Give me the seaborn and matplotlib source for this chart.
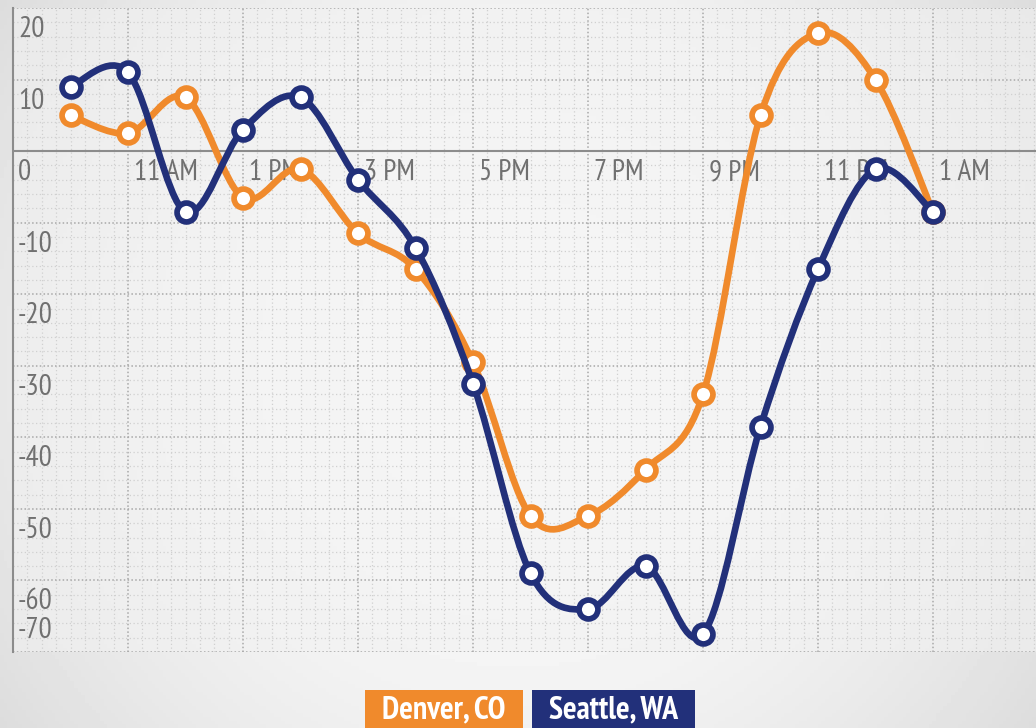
import numpy as np
import pandas as pd
import seaborn as sns
import matplotlib.pyplot as plt
from matplotlib.path import Path
from matplotlib.patches import PathPatch, Rectangle
from matplotlib.transforms import offset_copy

# hours of the day (10 AM .. 1 AM next day)
hours = list(range(10, 26))
denver = [5, 2.5, 7.5, -6.5, -2.5, -11.5, -16.5, -29.5, -51, -51, -44.5, -34, 5, 16.5, 10, -8.5]
seattle = [9, 11, -8.5, 3, 7.5, -4, -13.5, -32.5, -59, -64, -58, -67.5, -38.5, -16.5, -2.5, -8.5]
series_names = ["Denver, CO", "Seattle, WA"]

x_tick_pos = [11, 13, 15, 17, 19, 21, 23, 25]
x_tick_labels = ["11 AM", "1 PM", "3 PM", "5 PM", "7 PM", "9 PM", "11 PM", "1 AM"]
y_ticks = [20, 10, 0, -10, -20, -30, -40, -50, -60, -70]

ORANGE = "#f08a2c"
NAVY = "#22307a"
TICK_FONT = ["PT Sans Narrow", "Archivo Narrow", "DejaVu Sans"]

df = pd.DataFrame({
    "hour": hours * 2,
    "value": denver + seattle,
    "city": [series_names[0]] * len(hours) + [series_names[1]] * len(hours),
})

sns.set_theme(style="white")

fig = plt.figure(figsize=(10.36, 7.28), dpi=100)
fig.patch.set_facecolor("#f2f2f2")

# soft vignette behind everything
bg = fig.add_axes([0, 0, 1, 1], zorder=-5)
gy, gx = np.mgrid[-1:1:200j, -1:1:280j]
shade = 0.985 - 0.08 * (gx ** 2) - 0.04 * (gy ** 2)
bg.imshow(shade, cmap="gray", vmin=0, vmax=1, aspect="auto", extent=[0, 1, 0, 1])
bg.axis("off")

ax = fig.add_axes([13 / 1036, 76 / 728, 1023 / 1036, 644 / 728])
ax.set_facecolor((0.95, 0.95, 0.95, 0.6))
ax.set_xlim(9, 9 + 1023 / 57.5)
ax.set_ylim(-70, 20)

# grids
ax.set_xticks(np.arange(9, 27, 2))
ax.set_yticks(np.arange(-70, 21, 10))
ax.set_xticks(np.arange(9, 27, 0.25), minor=True)
ax.set_yticks(np.arange(-70, 21, 2), minor=True)
ax.grid(which="major", color="#a8a8a8", linestyle=(0, (1, 1.5)), linewidth=1.1)
ax.grid(which="minor", color="#d0d0d0", linestyle=(0, (1, 2)), linewidth=0.9)
ax.tick_params(which="both", length=0, labelbottom=False, labelleft=False)
for s in ["top", "right", "bottom"]:
    ax.spines[s].set_visible(False)
ax.spines["left"].set_color("#8c8c8c")
ax.spines["left"].set_linewidth(1.5)
ax.axhline(0, color="#8c8c8c", lw=1.5, zorder=1.5)


def spline_path(xs, ys):
    # Catmull-Rom through the points, as cubic Bezier segments
    pts = np.column_stack([xs, ys]).astype(float)
    ext = np.vstack([pts[0], pts, pts[-1]])
    verts = [pts[0]]
    codes = [Path.MOVETO]
    for i in range(1, len(ext) - 2):
        p0, p1, p2, p3 = ext[i - 1], ext[i], ext[i + 1], ext[i + 2]
        verts += [p1 + (p2 - p0) / 6, p2 - (p3 - p1) / 6, p2]
        codes += [Path.CURVE4] * 3
    return Path(verts, codes)


for k, (vals, col) in enumerate([(denver, ORANGE), (seattle, NAVY)]):
    ax.add_patch(PathPatch(spline_path(hours, vals), facecolor="none", edgecolor=col,
                           lw=4.8, capstyle="round", joinstyle="round", zorder=3 + 2 * k))
    sub = df[df["city"] == series_names[k]]
    sns.scatterplot(data=sub, x="hour", y="value", ax=ax, s=185, color="white",
                    edgecolor=col, linewidth=4.1, zorder=4 + 2 * k, legend=False)
ax.set_xlabel("")
ax.set_ylabel("")

tick_kw = dict(fontsize=21, color="#707070", family=TICK_FONT, zorder=2)

# tick labels drawn inside the plot
x_tr = offset_copy(ax.transData, fig=fig, x=6, y=-8, units="dots")
for pos, lab in zip(x_tick_pos, x_tick_labels):
    ax.text(pos, 0, lab, transform=x_tr, ha="left", va="top", **tick_kw)

y_tr = offset_copy(ax.transData, fig=fig, x=5, y=-8, units="dots")
y_tr_last = offset_copy(ax.transData, fig=fig, x=5, y=8, units="dots")
for v in y_ticks:
    if v == y_ticks[-1]:
        ax.text(9, v, str(v), transform=y_tr_last, ha="left", va="bottom", **tick_kw)
    else:
        ax.text(9, v, str(v), transform=y_tr, ha="left", va="top", **tick_kw)

# legend as colored boxes
for (x0, w, col, name) in [(365, 158, ORANGE, series_names[0]), (532, 163, NAVY, series_names[1])]:
    fig.patches.append(Rectangle((x0 / 1036, 0), w / 1036, 38 / 728, transform=fig.transFigure,
                                 facecolor=col, edgecolor="none"))
    fig.text((x0 + w / 2) / 1036, 18 / 728, name, ha="center", va="center", color="white",
             fontsize=23, fontweight="bold", family=TICK_FONT)

fig.savefig("out.png", dpi=100)
